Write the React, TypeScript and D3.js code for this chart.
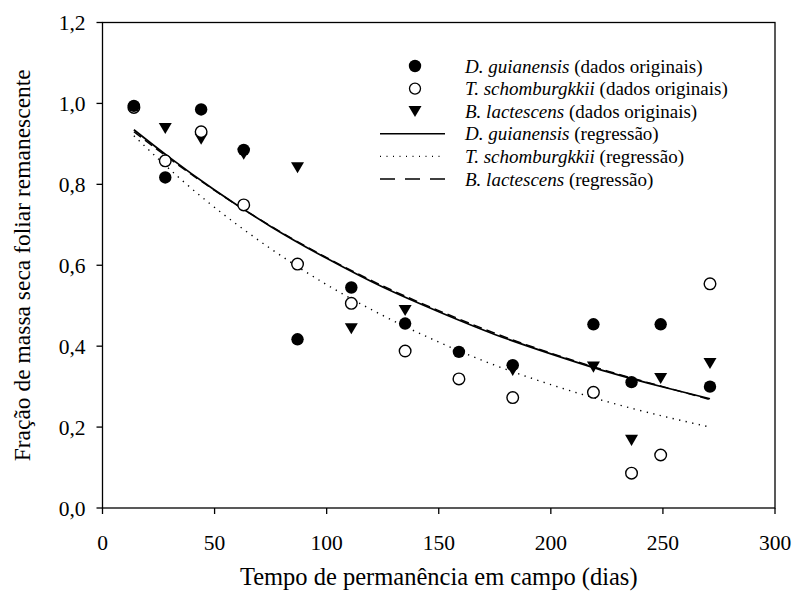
import React from "react";
import * as d3 from "d3";

const days = [14, 28, 44, 63, 87, 111, 135, 159, 183, 219, 236, 249, 271];
const dGuianensis = [0.994, 0.817, 0.985, 0.885, 0.417, 0.545, 0.456, 0.386, 0.353, 0.454, 0.311, 0.454, 0.3];
const tSchomburgkii = [0.99, 0.858, 0.93, 0.749, 0.603, 0.506, 0.388, 0.319, 0.273, 0.286, 0.086, 0.131, 0.554];
const bLactescens: (number | null)[] = [null, 0.939, 0.912, 0.875, 0.842, 0.444, 0.489, null, 0.341, 0.349, 0.168, 0.321, 0.358];

const regDays = [14, 30, 50, 75, 100, 125, 150, 175, 200, 225, 250, 271];
const regD = [0.935, 0.866, 0.786, 0.696, 0.617, 0.546, 0.485, 0.429, 0.381, 0.337, 0.299, 0.27];
const regB = [0.93, 0.863, 0.785, 0.697, 0.619, 0.549, 0.488, 0.432, 0.383, 0.339, 0.3, 0.268];
const regT = [0.92, 0.837, 0.743, 0.641, 0.552, 0.476, 0.41, 0.353, 0.305, 0.263, 0.227, 0.2];

const xTicks = [0, 50, 100, 150, 200, 250, 300];
const yTicks = [0, 0.2, 0.4, 0.6, 0.8, 1.0, 1.2];

const legendItems = [
  { sp: "D. guianensis", rest: " (dados originais)", kind: "filled" },
  { sp: "T. schomburgkkii", rest: " (dados originais)", kind: "open" },
  { sp: "B. lactescens", rest: " (dados originais)", kind: "tri" },
  { sp: "D. guianensis", rest: " (regressão)", kind: "solid" },
  { sp: "T. schomburgkkii", rest: " (regressão)", kind: "dotted" },
  { sp: "B. lactescens", rest: " (regressão)", kind: "dashed" },
];

const W = 796;
const H = 595;
const L = 102.5;
const R = 775;
const T = 22.5;
const B = 508;
const FONT = "'Liberation Serif', 'Times New Roman', serif";

function triPath(cx: number, cy: number, s = 6.5) {
  return `M${cx - s},${cy - s * 0.8} L${cx + s},${cy - s * 0.8} L${cx},${cy + s * 0.9} Z`;
}

export default function App() {
  const x = d3.scaleLinear().domain([0, 300]).range([L, R]);
  const y = d3.scaleLinear().domain([0, 1.2]).range([B, T]);
  const line = (vals: number[]) =>
    d3
      .line<number>()
      .x((_, i) => x(regDays[i]))
      .y((v) => y(v))
      .curve(d3.curveNatural)(vals) as string;

  const legX = 415;
  const legTextX = 465;
  const legY0 = 66;
  const legDy = 22.6;

  return (
    <svg width={W} height={H} style={{ position: "absolute", left: 0, top: 0, background: "#fff" }} fontFamily={FONT}>
      <rect x={0} y={0} width={W} height={H} fill="#fff" />
      {/* regression lines */}
      <path d={line(regT)} fill="none" stroke="#000" strokeWidth={1.4} strokeDasharray="1.3 5.4" />
      <path d={line(regD)} fill="none" stroke="#000" strokeWidth={1.7} />
      <path d={line(regB)} fill="none" stroke="#000" strokeWidth={1.4} strokeDasharray="9 5" />

      {/* data points */}
      {bLactescens.map((v, i) =>
        v == null ? null : <path key={"b" + i} d={triPath(x(days[i]), y(v))} fill="#000" />
      )}
      {tSchomburgkii.map((v, i) => (
        <circle key={"t" + i} cx={x(days[i])} cy={y(v)} r={5.8} fill="#fff" stroke="#000" strokeWidth={1.4} />
      ))}
      {dGuianensis.map((v, i) => (
        <circle key={"d" + i} cx={x(days[i])} cy={y(v)} r={6.2} fill="#000" />
      ))}

      {/* frame */}
      <rect x={L} y={T} width={R - L} height={B - T} fill="none" stroke="#000" strokeWidth={1.3} />

      {/* x axis ticks */}
      {xTicks.map((t) => (
        <g key={"xt" + t}>
          <line x1={x(t)} x2={x(t)} y1={B} y2={B + 6} stroke="#000" strokeWidth={1.3} />
          <text x={x(t)} y={B + 42} textAnchor="middle" fontSize={21.5}>
            {t}
          </text>
        </g>
      ))}
      {/* y axis ticks */}
      {yTicks.map((t) => (
        <g key={"yt" + t}>
          <line x1={L - 6} x2={L} y1={y(t)} y2={y(t)} stroke="#000" strokeWidth={1.3} />
          <text x={L - 17} y={y(t) + 7.5} textAnchor="end" fontSize={21.5}>
            {d3.format(".1f")(t).replace(".", ",")}
          </text>
        </g>
      ))}

      {/* axis titles */}
      <text x={(L + R) / 2} y={585} textAnchor="middle" fontSize={24.5}>
        Tempo de permanência em campo (dias)
      </text>
      <text transform={`translate(30,${(T + B) / 2}) rotate(-90)`} textAnchor="middle" fontSize={23.5}>
        Fração de massa seca foliar remanescente
      </text>

      {/* legend */}
      {legendItems.map((it, i) => {
        const cy = legY0 + i * legDy;
        let sym: React.ReactNode = null;
        if (it.kind === "filled") sym = <circle cx={legX} cy={cy} r={6.2} fill="#000" />;
        else if (it.kind === "open")
          sym = <circle cx={legX} cy={cy} r={5.5} fill="#fff" stroke="#000" strokeWidth={1.3} />;
        else if (it.kind === "tri") sym = <path d={triPath(legX, cy)} fill="#000" />;
        else if (it.kind === "solid")
          sym = <line x1={380} x2={445} y1={cy} y2={cy} stroke="#000" strokeWidth={1.5} />;
        else if (it.kind === "dotted")
          sym = <line x1={380} x2={445} y1={cy} y2={cy} stroke="#000" strokeWidth={1.2} strokeDasharray="1 5.5" />;
        else
          sym = <line x1={380} x2={445} y1={cy} y2={cy} stroke="#000" strokeWidth={1.5} strokeDasharray="15 10" />;
        return (
          <g key={"lg" + i}>
            {sym}
            <text x={legTextX} y={cy + 6.5} fontSize={19}>
              <tspan fontStyle="italic">{it.sp}</tspan>
              <tspan>{it.rest}</tspan>
            </text>
          </g>
        );
      })}
    </svg>
  );
}
